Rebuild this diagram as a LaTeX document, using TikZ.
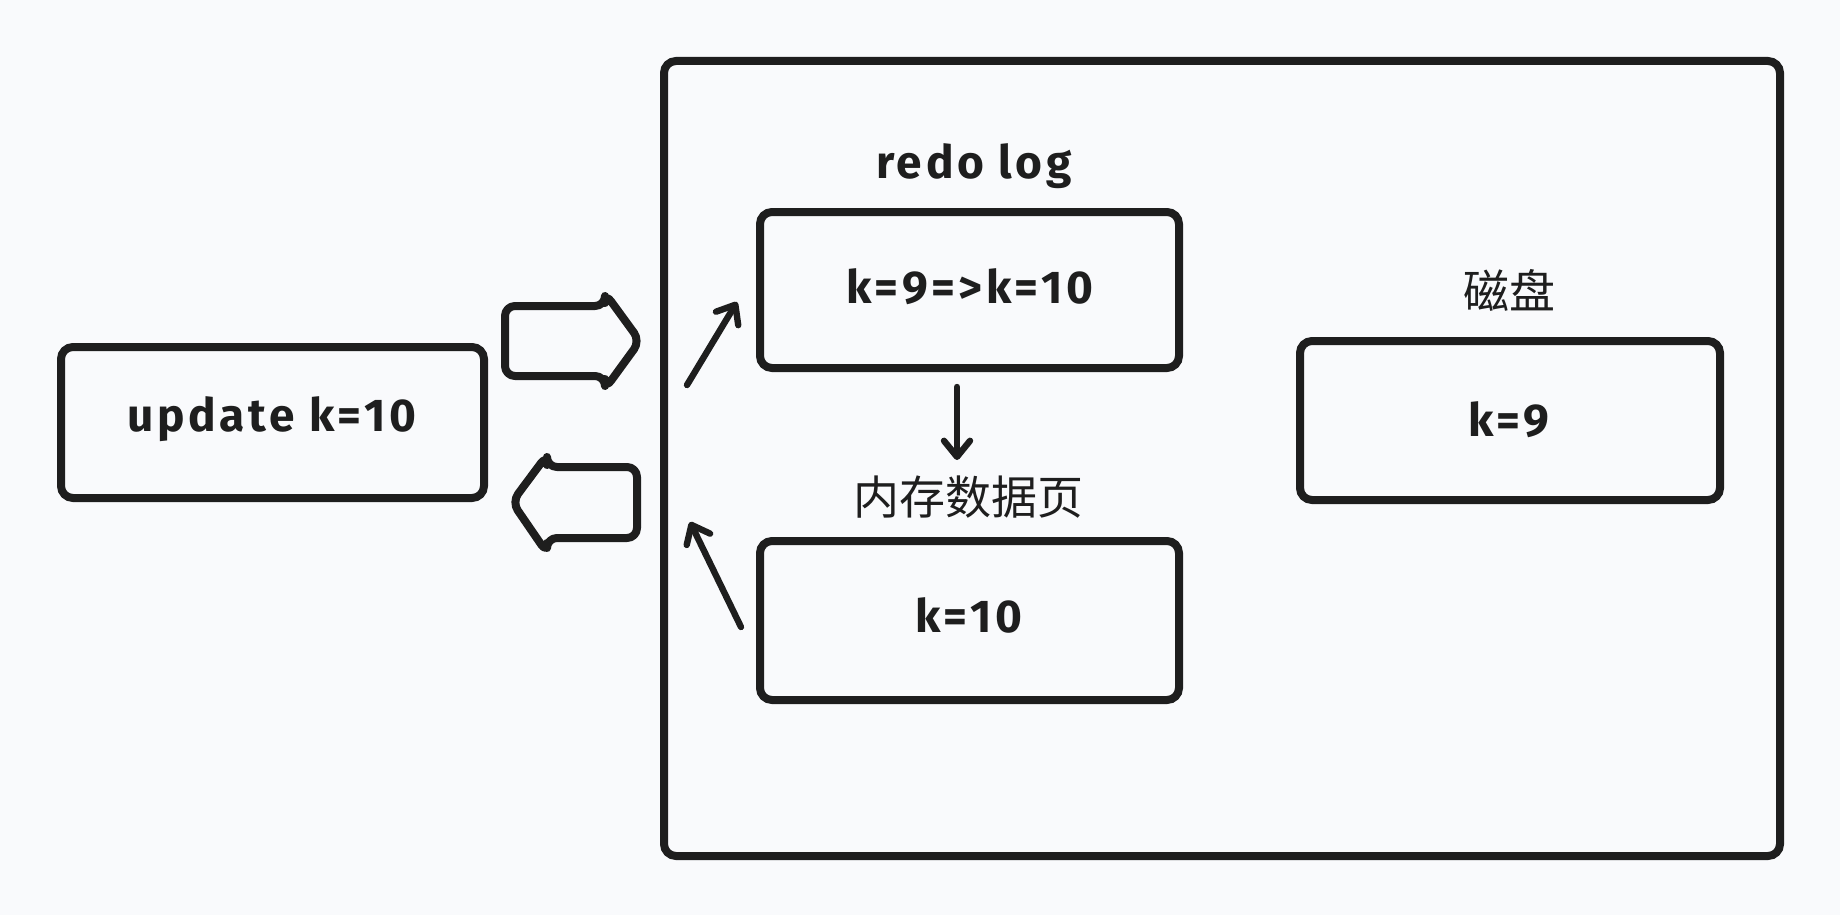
\documentclass[tikz,border=0pt]{standalone}
\usepackage{fontspec}
\setmainfont{Fira Sans}[LetterSpace=8]
\newfontfamily\cjk{Noto Sans CJK SC}
\usetikzlibrary{arrows.meta}
\definecolor{bgc}{RGB}{249,250,252}
\definecolor{ink}{RGB}{30,30,30}
\begin{document}
\begin{tikzpicture}[x=0.5pt,y=-0.5pt,
  box/.style={draw=ink,line width=4pt,rounded corners=6pt,inner sep=0pt},
  lbl/.style={text=ink,font=\fontsize{23}{27}\selectfont\bfseries,inner sep=0pt},
  cjklbl/.style={text=ink,font=\fontsize{23}{27}\selectfont\cjk,inner sep=0pt},
  fat/.style={draw=ink,line width=4pt,rounded corners=5pt,line join=round},
  thinarrow/.style={draw=ink,line width=3.2pt,line cap=round,-{Straight Barb[length=8pt,width=13pt,round]}}]
\useasboundingbox[fill=bgc] (0,0) rectangle (1840,915);
% boxes
\node[box,minimum width=423*0.5pt,minimum height=151*0.5pt] (upd) at (272.5,422.5) {};
\node[box,minimum width=1116*0.5pt,minimum height=795*0.5pt] (outer) at (1222,458.5) {};
\node[box,minimum width=419*0.5pt,minimum height=156*0.5pt] (redo) at (969.5,290) {};
\node[box,minimum width=419*0.5pt,minimum height=159*0.5pt] (mem) at (969.5,620.5) {};
\node[box,minimum width=420*0.5pt,minimum height=159*0.5pt] (disk) at (1510,420.5) {};
% texts
\node[lbl] (updt) at (272,419) {update k=10};
\node[lbl] (redot) at (970,287) {k=9=>k=10};
\node[lbl] (memt) at (969,615) {k=10};
\node[lbl] (diskt) at (1509,420) {k=9};
\node[lbl] (redolbl) at (974,166) {redo log};
\node[cjklbl] (memlbl) at (968,497) {内存数据页};
\node[cjklbl] (disklbl) at (1509,290) {磁盘};
% fat arrows
\draw[fat] (505,306) -- (605,306) -- (605,293) -- (640,341) -- (605,389) -- (605,376) -- (505,376) -- cycle;
\draw[fat] (637,467) -- (547,467) -- (547,455) -- (512,502) -- (547,553) -- (547,538) -- (637,538) -- cycle;
% thin arrows
\coordinate (a1s) at (687,385);
\coordinate (a1e) at (737,302);
\coordinate (a2s) at (741,627);
\coordinate (a2e) at (690,522);
\coordinate (a3s) at (957,387);
\coordinate (a3e) at (957,460);
\draw[thinarrow] (a1s) -- (a1e);
\draw[thinarrow] (a2s) -- (a2e);
\draw[thinarrow] (a3s) -- (a3e);
\end{tikzpicture}
\end{document}
